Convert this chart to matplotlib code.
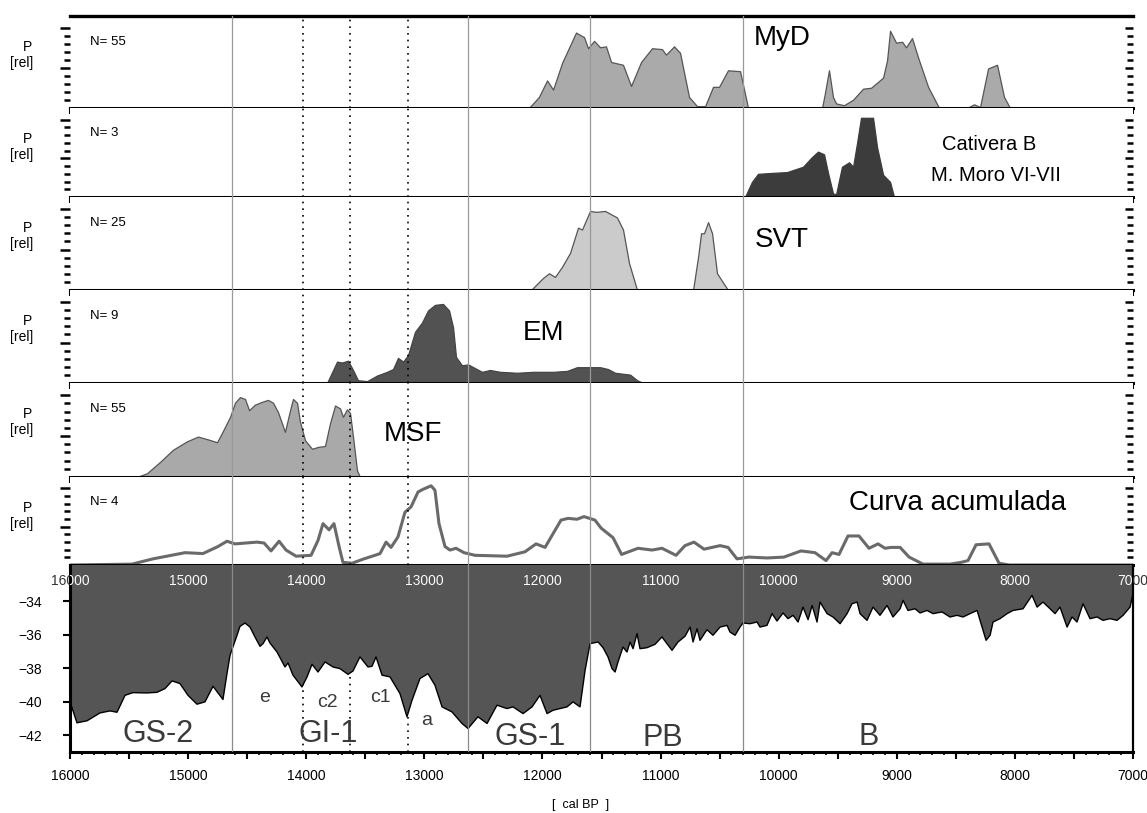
import numpy as np
import matplotlib.pyplot as plt
from matplotlib.ticker import MultipleLocator, FixedLocator, FuncFormatter

plt.rcParams['font.family'] = ['Liberation Sans', 'DejaVu Sans']

# summed probability distributions (years cal BP, probability relative to panel height)
myd_yr = [12114, 12030, 11961, 11910, 11834, 11716, 11648, 11614, 11563, 11512, 11462, 11419,
          11318, 11250, 11165, 11072, 10988, 10954, 10886, 10835, 10759, 10691, 10623, 10556,
          10505, 10429, 10327, 10259, 9633, 9610, 9574, 9540, 9514, 9447, 9370, 9286, 9218,
          9116, 9082, 9057, 9006, 8955, 8922, 8871, 8820, 8735, 8642, 8405, 8346, 8295, 8227,
          8151, 8092, 8041]
myd_p = [0.0, 0.12, 0.30, 0.20, 0.49, 0.82, 0.77, 0.65, 0.73, 0.66, 0.67, 0.50,
         0.47, 0.24, 0.50, 0.65, 0.64, 0.58, 0.67, 0.60, 0.12, 0.02, 0.02, 0.23,
         0.23, 0.41, 0.40, 0.0, 0.0, 0.15, 0.41, 0.12, 0.05, 0.03, 0.09, 0.21, 0.22,
         0.33, 0.52, 0.84, 0.71, 0.72, 0.66, 0.76, 0.55, 0.23, 0.0, 0.0, 0.04, 0.01, 0.43,
         0.47, 0.12, 0.0]

cat_yr = [10285, 10226, 10175, 10065, 9929, 9794, 9717, 9667, 9616, 9582, 9540, 9514,
          9464, 9404, 9370, 9336, 9303, 9201, 9167, 9116, 9057, 9023]
cat_p = [0.0, 0.17, 0.26, 0.27, 0.28, 0.34, 0.45, 0.51, 0.48, 0.27, 0.04, 0.03,
         0.34, 0.39, 0.34, 0.61, 0.89, 0.89, 0.56, 0.25, 0.17, 0.0]

svt_yr = [12097, 11995, 11944, 11894, 11834, 11766, 11699, 11665, 11597, 11546, 11470, 11369,
          11318, 11267, 11199, 10725, 10683, 10657, 10632, 10598, 10564, 10522, 10471, 10429]
svt_p = [0.0, 0.13, 0.18, 0.14, 0.25, 0.40, 0.67, 0.65, 0.85, 0.84, 0.85, 0.78,
         0.65, 0.29, 0.0, 0.0, 0.35, 0.61, 0.61, 0.73, 0.61, 0.18, 0.08, 0.0]

em_yr = [13824, 13739, 13697, 13646, 13604, 13562, 13485, 13401, 13316, 13265, 13223, 13180,
         13138, 13079, 13020, 12969, 12910, 12842, 12791, 12757, 12732, 12681, 12630, 12571,
         12512, 12444, 12359, 12215, 12080, 11910, 11792, 11707, 11623, 11512, 11445, 11385,
         11258, 11199, 11148]
em_p = [0.0, 0.23, 0.22, 0.24, 0.14, 0.03, 0.02, 0.08, 0.12, 0.15, 0.27, 0.23,
        0.30, 0.55, 0.65, 0.78, 0.84, 0.85, 0.78, 0.60, 0.28, 0.19, 0.20, 0.16,
        0.12, 0.14, 0.12, 0.11, 0.12, 0.12, 0.13, 0.17, 0.17, 0.17, 0.15, 0.11,
        0.09, 0.03, 0.0]

msf_yr = [15433, 15348, 15238, 15128, 15009, 14916, 14832, 14755, 14713, 14645, 14603, 14561,
          14518, 14484, 14434, 14374, 14324, 14281, 14239, 14180, 14137, 14112, 14078, 14053,
          14010, 13951, 13900, 13841, 13799, 13756, 13714, 13689, 13655, 13629, 13604, 13570,
          13545]
msf_p = [0.0, 0.04, 0.16, 0.29, 0.38, 0.43, 0.40, 0.37, 0.47, 0.64, 0.79, 0.85,
         0.83, 0.71, 0.77, 0.80, 0.82, 0.79, 0.69, 0.48, 0.71, 0.83, 0.79, 0.59,
         0.39, 0.30, 0.32, 0.33, 0.57, 0.76, 0.73, 0.64, 0.72, 0.68, 0.43, 0.07,
         0.0]

cum_yr = [16000, 15475, 15297, 15026, 14874, 14747, 14671, 14603, 14417, 14357, 14298, 14230,
          14171, 14086, 13959, 13900, 13858, 13807, 13765, 13722, 13689, 13612, 13511, 13418,
          13375, 13324, 13282, 13223, 13164, 13113, 13053, 13011, 12943, 12910, 12876, 12825,
          12783, 12732, 12664, 12571, 12300, 12148, 12054, 11978, 11843, 11783, 11707, 11648,
          11555, 11504, 11402, 11330, 11191, 11072, 10988, 10869, 10793, 10717, 10632, 10496,
          10429, 10353, 10251, 10098, 9955, 9811, 9692, 9599, 9548, 9489, 9413, 9320,
          9235, 9159, 9099, 9049, 8972, 8896, 8778, 8549, 8456, 8397, 8329, 8219,
          8134, 8050, 7000]
cum_p = [0.0, 0.01, 0.07, 0.14, 0.13, 0.21, 0.27, 0.24, 0.26, 0.25, 0.16, 0.27,
         0.17, 0.10, 0.11, 0.28, 0.47, 0.40, 0.47, 0.21, 0.03, 0.02, 0.07, 0.11,
         0.13, 0.26, 0.20, 0.32, 0.60, 0.66, 0.83, 0.86, 0.90, 0.85, 0.47, 0.21,
         0.17, 0.19, 0.14, 0.11, 0.10, 0.15, 0.24, 0.20, 0.51, 0.53, 0.52, 0.55,
         0.51, 0.42, 0.31, 0.12, 0.19, 0.17, 0.19, 0.11, 0.22, 0.26, 0.18, 0.22,
         0.20, 0.07, 0.09, 0.08, 0.09, 0.16, 0.14, 0.05, 0.14, 0.12, 0.33, 0.33,
         0.19, 0.24, 0.19, 0.20, 0.20, 0.09, 0.01, 0.01, 0.03, 0.05, 0.23, 0.24,
         0.02, 0.0, 0.0]

# d18O record
iso_yr = [16000, 15941, 15856, 15746, 15661, 15602, 15534, 15467, 15348, 15263, 15196, 15136,
          15069, 15001, 14925, 14857, 14789, 14705, 14671, 14645, 14586, 14561, 14518, 14476,
          14434, 14391, 14366, 14332, 14307, 14247, 14180, 14154, 14112, 14036, 13993, 13951,
          13900, 13841, 13773, 13714, 13646, 13604, 13545, 13477, 13443, 13409, 13358, 13291,
          13206, 13147, 13104, 13037, 12969, 12910, 12850, 12766, 12681, 12630, 12546, 12469,
          12385, 12300, 12249, 12164, 12088, 12021, 11961, 11910, 11792, 11741, 11682, 11639,
          11597, 11529, 11487, 11445, 11411, 11385, 11360, 11318, 11284, 11258, 11233, 11199,
          11174, 11115, 11047, 10988, 10945, 10903, 10852, 10793, 10750, 10725, 10691, 10666,
          10607, 10556, 10496, 10437, 10412, 10369, 10327, 10302, 10242, 10183, 10158, 10099,
          10056, 10014, 9963, 9921, 9878, 9836, 9794, 9751, 9717, 9675, 9650, 9590,
          9540, 9480, 9421, 9379, 9336, 9311, 9252, 9201, 9142, 9082, 9032, 8972,
          8947, 8905, 8845, 8803, 8744, 8693, 8617, 8549, 8490, 8439, 8380, 8320,
          8278, 8244, 8210, 8185, 8126, 8066, 8016, 7931, 7855, 7812, 7762, 7702,
          7660, 7618, 7558, 7516, 7474, 7423, 7364, 7304, 7254, 7194, 7135, 7084,
          7025, 7000]
iso_val = [-40.0, -41.26, -41.14, -40.67, -40.55, -40.63, -39.62, -39.46, -39.48, -39.44, -39.22, -38.76,
           -38.92, -39.62, -40.15, -40.01, -39.08, -39.87, -38.33, -37.23, -36.04, -35.51, -35.31, -35.55,
           -36.14, -36.70, -36.54, -36.14, -36.50, -37.04, -37.93, -37.69, -38.42, -39.12, -38.52, -37.77,
           -38.23, -37.63, -37.93, -38.03, -38.37, -38.17, -37.33, -37.93, -37.89, -37.33, -38.42, -38.52,
           -39.52, -40.90, -39.91, -38.62, -38.33, -39.02, -40.31, -40.61, -41.30, -41.60, -40.90, -41.30,
           -40.21, -40.41, -40.31, -40.71, -40.31, -39.62, -40.71, -40.51, -40.31, -40.01, -40.31, -38.13,
           -36.54, -36.44, -36.78, -37.33, -38.03, -38.23, -37.63, -36.74, -37.04, -36.44, -36.84, -35.94,
           -36.84, -36.78, -36.58, -36.14, -36.54, -36.94, -36.44, -36.10, -35.55, -36.44, -35.65, -36.34,
           -35.71, -36.04, -35.55, -35.45, -35.85, -36.04, -35.55, -35.31, -35.35, -35.25, -35.55, -35.45,
           -34.75, -35.19, -34.71, -35.05, -34.85, -35.25, -34.36, -35.11, -34.26, -35.25, -34.06, -34.75,
           -34.95, -35.35, -34.75, -34.16, -34.06, -34.75, -35.15, -34.36, -34.85, -34.26, -34.95, -34.46,
           -33.96, -34.56, -34.46, -34.71, -34.56, -34.75, -34.65, -34.95, -34.85, -34.95, -34.75, -34.56,
           -35.55, -36.34, -36.04, -35.25, -35.05, -34.75, -34.56, -34.46, -33.66, -34.36, -34.06, -34.46,
           -34.75, -34.36, -35.55, -34.95, -35.25, -34.16, -35.05, -34.95, -35.15, -35.05, -35.15, -34.85,
           -34.36, -33.56]

panels = [
    (myd_yr, myd_p, '#aaaaaa', '#555555', 'N= 55', 'MyD'),
    (cat_yr, cat_p, '#3c3c3c', '#3c3c3c', 'N= 3', None),
    (svt_yr, svt_p, '#cbcbcb', '#555555', 'N= 25', 'SVT'),
    (em_yr, em_p, '#525252', '#444444', 'N= 9', 'EM'),
    (msf_yr, msf_p, '#a9a9a9', '#555555', 'N= 55', 'MSF'),
    (cum_yr, cum_p, None, '#6a6a6a', 'N= 4', 'Curva acumulada'),
]
label_pos = [(0.67, 0.76), None, (0.67, 0.54), (0.445, 0.54), (0.323, 0.46), (0.835, 0.70)]

solid_lines = [14630, 12630, 11600, 10300]
dotted_lines = [14030, 13630, 13140]

W, H = 1147, 813
x0, x1 = 70, 1133
edges = [16, 108, 197, 290, 383, 477, 565, 752]

fig = plt.figure(figsize=(W / 100, H / 100), dpi=100)


def add_ax(top, bot):
    return fig.add_axes([x0 / W, 1 - bot / H, (x1 - x0) / W, (bot - top) / H])


ytk = np.arange(1, 11) * 0.087
for i, (yr, p, fc, ec, ntxt, lab) in enumerate(panels):
    ax = add_ax(edges[i], edges[i + 1])
    ax.set_xlim(16000, 7000)
    ax.set_ylim(0, 1)
    if fc is None:
        ax.plot(yr, p, color=ec, lw=2.2, zorder=2)
    else:
        ax.fill_between(yr, p, 0, facecolor=fc, edgecolor=ec, lw=0.9, zorder=2)
    for s in solid_lines:
        ax.axvline(s, color='#999999', lw=0.9, zorder=3)
    for d in dotted_lines:
        ax.axvline(d, color='black', lw=1.2, ls=(0, (1, 3)), zorder=3)

    for side in ['left', 'right']:
        ax.spines[side].set_visible(False)
    ax.spines['top'].set_visible(i == 0)
    ax.spines['top'].set_linewidth(2.4)
    ax.spines['bottom'].set_linewidth(2.2)

    ax.xaxis.set_major_locator(MultipleLocator(500))
    ax.xaxis.set_minor_locator(MultipleLocator(100))
    ax.tick_params(axis='x', which='major', length=4.5, width=1.5, labelbottom=False)
    ax.tick_params(axis='x', which='minor', length=2.5, width=1.3)

    ax.yaxis.set_major_locator(FixedLocator([ytk[4], ytk[9]]))
    ax.yaxis.set_minor_locator(FixedLocator(ytk))
    ax.tick_params(axis='y', which='major', length=7, width=1.8, labelleft=False)
    ax.tick_params(axis='y', which='minor', length=4.5, width=1.8)
    sec = ax.secondary_yaxis('right')
    sec.spines['right'].set_visible(False)
    sec.yaxis.set_major_locator(FixedLocator([ytk[4], ytk[9]]))
    sec.yaxis.set_minor_locator(FixedLocator(ytk))
    sec.tick_params(which='major', direction='in', length=6, width=1.8, labelright=False)
    sec.tick_params(which='minor', direction='in', length=4, width=1.8)

    ax.text(0.019, 0.72, ntxt, transform=ax.transAxes, fontsize=9.5, va='center')
    if lab is not None:
        ax.text(label_pos[i][0], label_pos[i][1], lab, transform=ax.transAxes,
                fontsize=20, ha='center', va='center')
    else:
        ax.text(0.865, 0.59, 'Cativera B', transform=ax.transAxes,
                fontsize=14.5, ha='center', va='center')
        ax.text(0.871, 0.245, 'M. Moro VI-VII', transform=ax.transAxes,
                fontsize=14.5, ha='center', va='center')

    fig.text(28 / W, 1 - (edges[i] + 31) / H, 'P', fontsize=10, ha='center', va='center')
    fig.text(22 / W, 1 - (edges[i] + 47) / H, '[rel]', fontsize=10, ha='center', va='center')

# isotope panel
axb = add_ax(edges[6], edges[7])
top = -31.85
axb.set_xlim(16000, 7000)
axb.set_ylim(-43, top)
axb.fill_between(iso_yr, iso_val, top, facecolor='#555555', lw=0, zorder=2)
axb.plot(iso_yr, iso_val, color='black', lw=1.0, zorder=3)
for d in dotted_lines:
    axb.axvline(d, color='black', lw=1.2, ls=(0, (1, 3)), zorder=1)
for s in solid_lines:
    axb.axvline(s, color='#8a8a8a', lw=0.9, zorder=4)

axb.spines['top'].set_visible(False)
axb.spines['left'].set_linewidth(2.2)
axb.spines['bottom'].set_linewidth(2.2)
axb.spines['right'].set_linewidth(1.6)
axb.set_yticks([-34, -36, -38, -40, -42])
axb.tick_params(axis='y', length=5, width=1.5, pad=15, labelsize=10)
axb.xaxis.set_major_locator(MultipleLocator(500))
axb.xaxis.set_minor_locator(MultipleLocator(100))
axb.xaxis.set_major_formatter(FuncFormatter(lambda v, pos: '%d' % v if v % 1000 == 0 else ''))
axb.tick_params(axis='x', which='major', length=5, width=1.5, pad=7, labelsize=10)
axb.tick_params(axis='x', which='minor', length=2.5, width=1.2)

# year labels inside the top of the isotope panel: white over the fill, dark outside it
for t in range(16000, 6999, -1000):
    axb.text(t, -32.8, str(t), color='#333333', fontsize=10, ha='center', va='center',
             zorder=5, clip_on=False)
    axb.text(t, -32.8, str(t), color='white', fontsize=10, ha='center', va='center',
             zorder=6, clip_on=True)

big = dict(fontsize=22, color='#3a3a3a', ha='center', va='center', zorder=5)
axb.text(15255, -41.95, 'GS-2', **big)
axb.text(13815, -41.95, 'GI-1', **big)
axb.text(12105, -42.1, 'GS-1', **big)
axb.text(10979, -42.15, 'PB', **big)
axb.text(9235, -42.1, 'B', **big)
small = dict(fontsize=14, color='#3a3a3a', ha='center', va='center', zorder=5)
axb.text(14349, -39.73, 'e', **small)
axb.text(13824, -40.03, 'c2', **small)
axb.text(13375, -39.73, 'c1', **small)
axb.text(12977, -41.1, 'a', **small)

fig.text(581 / W, 1 - 805 / H, '[  cal BP  ]', fontsize=9, ha='center', va='center')

fig.savefig('out.png', dpi=100)
